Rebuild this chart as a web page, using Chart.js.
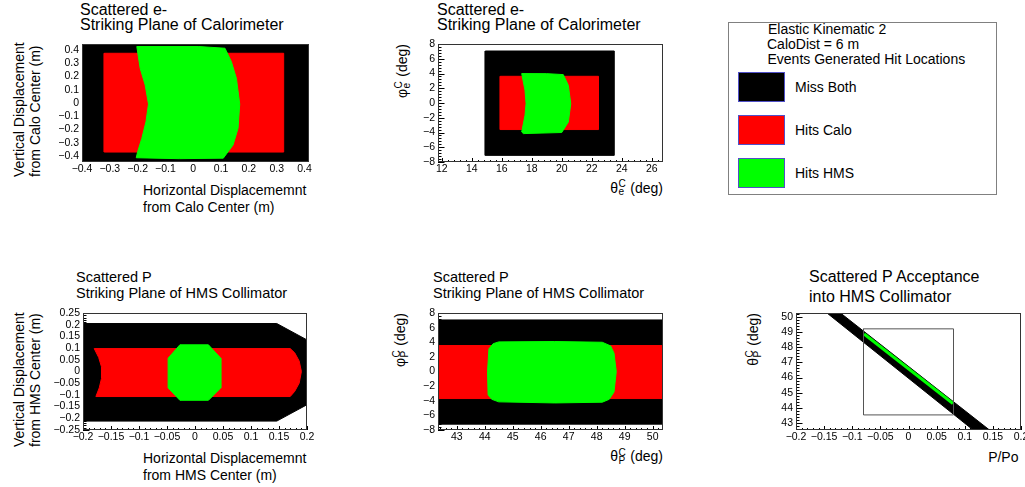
<!DOCTYPE html>
<html>
<head>
<meta charset="utf-8">
<title>Elastic Kinematic 2 - generated hit locations</title>
<script src="https://cdn.jsdelivr.net/npm/chart.js@4.4.1/dist/chart.umd.min.js"></script>
<style>
  html, body { margin: 0; padding: 0; background: #fff; overflow: hidden; }
  #page { position: relative; width: 1025px; height: 487px; overflow: hidden;
          font-family: "Liberation Sans", Arial, Helvetica, sans-serif; color: #000; }
  #page canvas { position: absolute; }
  .t { position: absolute; white-space: nowrap; line-height: 1; font-size: 14px; }
  .h16 { font-size: 16px; }
  .h145 { font-size: 14.5px; }
  .rot { transform-origin: 0 0; transform: rotate(-90deg); }
  .ra { text-align: right; }
  .ss { display: inline-block; position: relative; width: 0.6em; height: 1em; vertical-align: top; }
  .ss .sp, .ss .sb { position: absolute; left: 0.04em; font-size: 0.72em; line-height: 1; }
  .ss .sp { top: -0.12em; }
  .ss .sb { top: 0.67em; }
  .box { position: absolute; box-sizing: border-box; }
</style>
</head>
<body>
<div id="page">
  <!-- panel titles -->
  <div class="t h16" style="left:80px;top:1.7px">Scattered e-</div>
  <div class="t h16" style="left:80px;top:17.2px">Striking Plane of Calorimeter</div>
  <div class="t h16" style="left:437px;top:1.7px">Scattered e-</div>
  <div class="t h16" style="left:437px;top:17.2px">Striking Plane of Calorimeter</div>
  <div class="t h145" style="left:76px;top:269.9px">Scattered P</div>
  <div class="t h145" style="left:76px;top:285.9px">Striking Plane of HMS Collimator</div>
  <div class="t h145" style="left:433px;top:269.9px">Scattered P</div>
  <div class="t h145" style="left:433px;top:285.9px">Striking Plane of HMS Collimator</div>
  <div class="t h16" style="left:809px;top:269.4px">Scattered P Acceptance</div>
  <div class="t h16" style="left:809px;top:289.4px">into HMS Collimator</div>

  <!-- axis titles -->
  <div class="t" style="left:143px;top:183.2px">Horizontal Displacememnt</div>
  <div class="t" style="left:143px;top:199.9px">from Calo Center (m)</div>
  <div class="t rot" style="left:11.9px;top:176.7px">Vertical Displacement</div>
  <div class="t rot" style="left:27.5px;top:176.7px">from Calo Center (m)</div>

  <div class="t" style="left:143px;top:451.2px">Horizontal Displacememnt</div>
  <div class="t" style="left:143px;top:467.5px">from HMS Center (m)</div>
  <div class="t rot" style="left:11.9px;top:446.7px">Vertical Displacement</div>
  <div class="t rot" style="left:27.9px;top:446.7px">from HMS Center (m)</div>

  <div class="t ra" style="right:362px;top:180.7px">&theta;<span class="ss"><span class="sp">C</span><span class="sb">e</span></span> (deg)</div>
  <div class="t rot ra" style="left:395.2px;top:164px;width:120px">&phi;<span class="ss"><span class="sp">C</span><span class="sb">e</span></span> (deg)</div>

  <div class="t ra" style="right:362px;top:449.2px">&theta;<span class="ss"><span class="sp">C</span><span class="sb">P</span></span> (deg)</div>
  <div class="t rot ra" style="left:393.2px;top:433px;width:120px">&phi;<span class="ss"><span class="sp">C</span><span class="sb">P</span></span> (deg)</div>

  <div class="t ra" style="right:6.5px;top:449.9px">P/Po</div>
  <div class="t rot ra" style="left:746.2px;top:433px;width:120px">&theta;<span class="ss"><span class="sp">C</span><span class="sb">P</span></span> (deg)</div>

  <!-- legend -->
  <div class="box" style="left:728px;top:22px;width:269px;height:173px;border:1px solid #808080"></div>
  <div class="t" style="left:768px;top:21.9px">Elastic Kinematic 2</div>
  <div class="t" style="left:767px;top:37.4px">CaloDist = 6 m</div>
  <div class="t" style="left:767.5px;top:51.5px">Events Generated Hit Locations</div>
</div>

<script>
// Region colours and names
const MISS = '#000000', CALO = '#ff0000', HMS = '#00ff00';
const regionNames = ['Miss Both', 'Hits Calo', 'Hits HMS'];
const regionColors = [MISS, CALO, HMS];

// ---------- Scattered e-, calorimeter plane (metres) ----------
const caloMissBoth = [[-0.42, -0.46], [0.43, -0.46], [0.43, 0.46], [-0.42, 0.46]];
const caloHitsCalo = [[-0.32, -0.37], [0.325, -0.37], [0.325, 0.375], [-0.32, 0.375]];
const caloHitsHMS = [
  [-0.203, 0.426], [-0.191, 0.262], [-0.173, 0.136], [-0.161, -0.008], [-0.170, -0.141],
  [-0.185, -0.267], [-0.200, -0.368], [-0.205, -0.413], [-0.05, -0.42], [0.108, -0.416],
  [0.143, -0.317], [0.161, -0.191], [0.167, -0.008], [0.155, 0.186], [0.137, 0.312],
  [0.114, 0.413], [0.02, 0.426]
];
const caloXTicks = [-0.4, -0.3, -0.2, -0.1, 0, 0.1, 0.2, 0.3, 0.4];
const caloXLabels = ['\u22120.4', '\u22120.3', '\u22120.2', '\u22120.1', '0', '0.1', '0.2', '0.3', '0.4'];
const caloYTicks = [-0.4, -0.3, -0.2, -0.1, 0, 0.1, 0.2, 0.3, 0.4];
const caloYLabels = ['\u22120.4', '\u22120.3', '\u22120.2', '\u22120.1', '0', '0.1', '0.2', '0.3', '0.4'];

// ---------- Scattered e-, angles at calorimeter (deg) ----------
const angEMissBoth = [[14.9, -7.1], [23.5, -7.1], [23.5, 7.05], [14.9, 7.05]];
const angEHitsCalo = [[15.9, -3.6], [22.45, -3.6], [22.45, 3.62], [15.9, 3.62]];
const angEHitsHMS = [
  [17.33, 3.99], [17.55, 1.72], [17.62, -0.08], [17.55, -1.67], [17.33, -3.93],
  [17.44, -4.15], [20.0, -4.0], [20.44, -2.58], [20.6, -0.1], [20.44, 2.4],
  [20.1, 3.85], [19.0, 3.98]
];
const angEXTicks = [12, 14, 16, 18, 20, 22, 24, 26];
const angEXLabels = ['12', '14', '16', '18', '20', '22', '24', '26'];
const angEYTicks = [-8, -6, -4, -2, 0, 2, 4, 6, 8];
const angEYLabels = ['\u22128', '\u22126', '\u22124', '\u22122', '0', '2', '4', '6', '8'];

// ---------- Scattered P, HMS collimator plane (metres) ----------
const collMissBoth = [[-0.21, 0.205], [0.146, 0.205], [0.2, 0.135], [0.21, 0.135], [0.21, -0.142],
  [0.2, -0.142], [0.146, -0.212], [-0.21, -0.212]];
const collHitsCalo = [
  [-0.180, 0.098], [0.170, 0.098], [0.178, 0.080], [0.186, 0.045], [0.190, 0.0],
  [0.186, -0.050], [0.178, -0.085], [0.170, -0.107], [-0.177, -0.107], [-0.171, -0.070],
  [-0.167, -0.030], [-0.167, 0.020], [-0.172, 0.060]
];
const collHitsHMS = [
  [-0.027, 0.114], [0.024, 0.114], [0.046, 0.057], [0.046, -0.070],
  [0.024, -0.123], [-0.027, -0.123], [-0.048, -0.070], [-0.048, 0.057]
];
const collXTicks = [-0.2, -0.15, -0.1, -0.05, 0, 0.05, 0.1, 0.15, 0.2];
const collXLabels = ['\u22120.2', '\u22120.15', '\u22120.1', '\u22120.05', '0', '0.05', '0.1', '0.15', '0.2'];
const collYTicks = [-0.25, -0.2, -0.15, -0.1, -0.05, 0, 0.05, 0.1, 0.15, 0.2, 0.25];
const collYLabels = ['\u22120.25', '\u22120.2', '\u22120.15', '\u22120.1', '\u22120.05', '0',
  '0.05', '0.1', '0.15', '0.2', '0.25'];

// ---------- Scattered P, angles at HMS collimator (deg) ----------
const angPMissBoth = [[42, -7.2], [51, -7.2], [51, 7.05], [42, 7.05]];
const angPHitsCalo = [[42, -3.7], [51, -3.7], [51, 3.55], [42, 3.55]];
const angPHitsHMS = [
  [44.15, 3.1], [44.3, 3.8], [44.5, 4.05], [46.5, 4.1], [48.2, 4.0], [48.5, 3.5],
  [48.62, 2.5], [48.7, 0.0], [48.62, -2.8], [48.45, -3.8], [48.2, -4.2], [46.5, -4.3],
  [44.5, -4.15], [44.25, -3.8], [44.12, -3.2], [44.1, 0.0]
];
const angPXTicks = [43, 44, 45, 46, 47, 48, 49, 50];
const angPXLabels = ['43', '44', '45', '46', '47', '48', '49', '50'];
const angPYTicks = [-8, -6, -4, -2, 0, 2, 4, 6, 8];
const angPYLabels = ['\u22128', '\u22126', '\u22124', '\u22122', '0', '2', '4', '6', '8'];

// ---------- Scattered P acceptance: theta vs P/Po ----------
const accMissBoth = [[-0.147, 50.3], [-0.123, 50.3], [0.146, 42.5], [0.117, 42.5]];
const accHitsHMS = [[-0.079, 48.86], [0.079, 44.3]];
const accCollimator = [[-0.08, 43.55], [0.08, 43.55], [0.08, 49.2], [-0.08, 49.2], [-0.08, 43.55]];
const accXTicks = [-0.2, -0.15, -0.1, -0.05, 0, 0.05, 0.1, 0.15, 0.2];
const accXLabels = ['\u22120.2', '\u22120.15', '\u22120.1', '\u22120.05', '0', '0.05', '0.1', '0.15', '0.2'];
const accYTicks = [43, 44, 45, 46, 47, 48, 49, 50];
const accYLabels = ['43', '44', '45', '46', '47', '48', '49', '50'];

Chart.defaults.font.family = "'Liberation Sans', Arial, Helvetica, sans-serif";
Chart.defaults.color = '#000';

const page = document.getElementById('page');

// Legend entries, built from the region names and colours
const legendTops = [72, 115, 158];
regionNames.forEach((name, i) => {
  const sw = document.createElement('div');
  sw.className = 'box';
  sw.style.cssText = `left:738px;top:${legendTops[i]}px;width:47px;height:30px;background:${regionColors[i]};border:1px solid #5050c8`;
  page.appendChild(sw);
  const lb = document.createElement('div');
  lb.className = 't';
  lb.style.cssText = `left:795px;top:${legendTops[i] + 15 - 6.84}px`;
  lb.textContent = name;
  page.appendChild(lb);
});

// Closed filled polygon for one hit-location class
function region(points, color, order, label) {
  const pts = points.concat([points[0]]).map(([x, y]) => ({ x, y }));
  return {
    label, data: pts, showLine: true, fill: 'shape', tension: 0,
    backgroundColor: color, borderColor: color, borderWidth: 1,
    pointRadius: 0, order, clip: 0
  };
}
function polyline(points, color, width, order, label) {
  return {
    label, data: points.map(([x, y]) => ({ x, y })), showLine: true, fill: false, tension: 0,
    borderColor: color, backgroundColor: color, borderWidth: width,
    pointRadius: 0, order, clip: 0
  };
}

// Axis with fixed major ticks and labels
function axis(min, max, ticks, labels, isX) {
  return {
    type: 'linear', min, max, bounds: 'data',
    afterBuildTicks: s => { s.ticks = ticks.map(v => ({ value: v })); },
    afterFit: s => {
      if (isX) s.height = 24; else s.width = 50;
      s.paddingLeft = s.paddingRight = s.paddingTop = s.paddingBottom = 0;
    },
    grid: { display: false, drawTicks: false },
    border: { display: false },
    ticks: {
      autoSkip: false, maxRotation: 0, minRotation: 0,
      padding: isX ? 1 : 3, color: '#000', font: { size: 10.5 },
      callback: (v, i) => labels[i]
    }
  };
}

// Frame and inward tick marks (major + minor), drawn through the chart scales
const frameTicks = {
  id: 'frameTicks',
  beforeDatasetsDraw(chart, args, opts) {
    const { ctx, chartArea: a } = chart;
    const sx = chart.scales.x, sy = chart.scales.y;
    ctx.save();
    ctx.strokeStyle = '#000';
    ctx.lineWidth = 1;
    ctx.beginPath();
    const marks = (scale, step, majors, majLen, minLen, horiz) => {
      const lo = Math.ceil(scale.min / step - 1e-6), hi = Math.floor(scale.max / step + 1e-6);
      const majorSet = majors.map(v => Math.round(v / step));
      for (let i = lo; i <= hi; i++) {
        const len = majorSet.includes(i) ? majLen : minLen;
        const p = Math.round(scale.getPixelForValue(i * step)) + 0.5;
        if (horiz) { ctx.moveTo(p, a.bottom); ctx.lineTo(p, a.bottom - len); }
        else { ctx.moveTo(a.left, p); ctx.lineTo(a.left + len, p); }
      }
    };
    marks(sx, opts.xMinor, opts.xMajor, 4, 2, true);
    marks(sy, opts.yMinor, opts.yMajor, 6.5, 3.5, false);
    ctx.stroke();
    ctx.restore();
  },
  afterDatasetsDraw(chart) {
    const { ctx, chartArea: a } = chart;
    ctx.save();
    ctx.strokeStyle = '#333';
    ctx.lineWidth = 1;
    ctx.strokeRect(a.left + 0.5, a.top + 0.5, a.right - a.left - 1, a.bottom - a.top - 1);
    ctx.restore();
  }
};

function panel(box, xs, ys, datasets, tickOpts) {
  const cv = document.createElement('canvas');
  const W = box.w + 66, H = box.h + 34;
  cv.width = W; cv.height = H;
  cv.style.left = (box.x - 50) + 'px';
  cv.style.top = (box.y - 10) + 'px';
  cv.style.width = W + 'px';
  cv.style.height = H + 'px';
  page.appendChild(cv);
  return new Chart(cv, {
    type: 'scatter',
    data: { datasets },
    options: {
      responsive: false, animation: false, devicePixelRatio: 1, events: [],
      layout: { autoPadding: false, padding: { left: 0, top: 10, right: 16, bottom: 0 } },
      scales: { x: xs, y: ys },
      plugins: { legend: { display: false }, tooltip: { enabled: false }, frameTicks: tickOpts }
    },
    plugins: [frameTicks]
  });
}

// Top left: electron hit positions on the calorimeter plane
panel({ x: 82, y: 44, w: 227, h: 118 },
  axis(-0.4, 0.416, caloXTicks, caloXLabels, true),
  axis(-0.445, 0.445, caloYTicks, caloYLabels, false),
  [region(caloHitsHMS, HMS, 1, regionNames[2]),
   region(caloHitsCalo, CALO, 2, regionNames[1]),
   region(caloMissBoth, MISS, 3, regionNames[0])],
  { xMinor: 0.02, xMajor: caloXTicks, yMinor: 0.02, yMajor: caloYTicks });

// Top middle: electron angles at the calorimeter
panel({ x: 438, y: 44, w: 225, h: 118 },
  axis(11.75, 26.75, angEXTicks, angEXLabels, true),
  axis(-8, 8, angEYTicks, angEYLabels, false),
  [region(angEHitsHMS, HMS, 1, regionNames[2]),
   region(angEHitsCalo, CALO, 2, regionNames[1]),
   region(angEMissBoth, MISS, 3, regionNames[0])],
  { xMinor: 0.4, xMajor: angEXTicks, yMinor: 0.4, yMajor: angEYTicks });

// Bottom left: proton hit positions on the HMS collimator plane
panel({ x: 83, y: 313, w: 224, h: 117 },
  axis(-0.2, 0.2, collXTicks, collXLabels, true),
  axis(-0.25, 0.25, collYTicks, collYLabels, false),
  [region(collHitsHMS, HMS, 1, regionNames[2]),
   region(collHitsCalo, CALO, 2, regionNames[1]),
   region(collMissBoth, MISS, 3, regionNames[0])],
  { xMinor: 0.01, xMajor: collXTicks, yMinor: 0.01, yMajor: collYTicks });

// Bottom middle: proton angles at the HMS collimator
panel({ x: 438, y: 313, w: 225, h: 117 },
  axis(42.33, 50.37, angPXTicks, angPXLabels, true),
  axis(-8, 8, angPYTicks, angPYLabels, false),
  [region(angPHitsHMS, HMS, 1, regionNames[2]),
   region(angPHitsCalo, CALO, 2, regionNames[1]),
   region(angPMissBoth, MISS, 3, regionNames[0])],
  { xMinor: 0.2, xMajor: angPXTicks, yMinor: 0.4, yMajor: angPYTicks });

// Bottom right: proton angle vs momentum, with the collimator acceptance box
panel({ x: 796, y: 313, w: 225, h: 117 },
  axis(-0.2, 0.2, accXTicks, accXLabels, true),
  axis(42.56, 50.24, accYTicks, accYLabels, false),
  [polyline(accCollimator, '#555', 1, 1, 'HMS collimator'),
   polyline(accHitsHMS, HMS, 3, 2, regionNames[2]),
   region(accMissBoth, MISS, 3, regionNames[0])],
  { xMinor: 0.01, xMajor: accXTicks, yMinor: 0.2, yMajor: accYTicks });
</script>
</body>
</html>
